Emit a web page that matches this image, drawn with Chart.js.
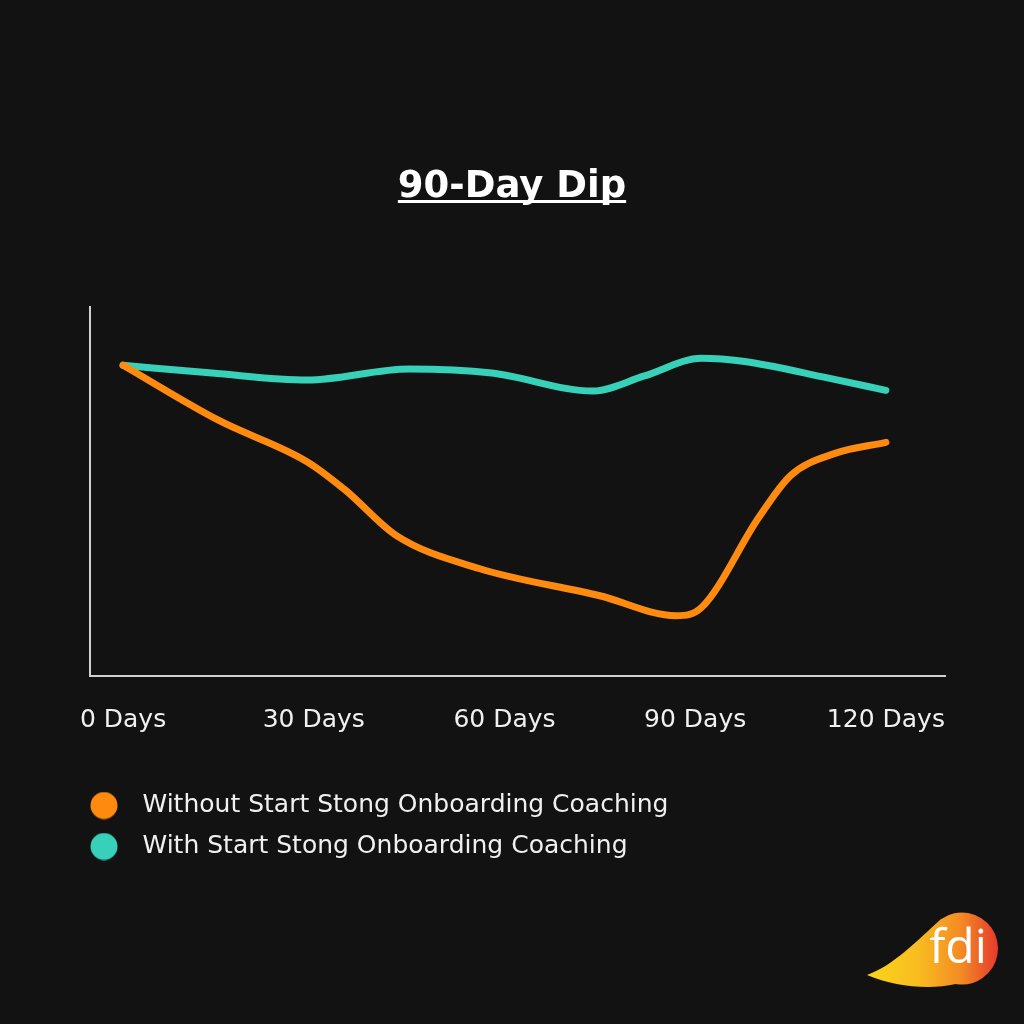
<!DOCTYPE html>
<html>
<head>
<meta charset="utf-8">
<script src="https://cdn.jsdelivr.net/npm/chart.js@4/dist/chart.umd.min.js"></script>
<style>
  html, body { margin: 0; padding: 0; background: #121212; }
  #wrap { width: 1024px; height: 1024px; }
</style>
</head>
<body>
<div id="wrap"><canvas id="c" width="1024" height="1024"></canvas></div>
<script>
// ---- data ----
const chartTitle = '90-Day Dip';
const tickDays = [0, 30, 60, 90, 120];
const tickLabels = ['0 Days', '30 Days', '60 Days', '90 Days', '120 Days'];
const seriesNames = ['Without Start Stong Onboarding Coaching', 'With Start Stong Onboarding Coaching'];
const withoutDays   = [0, 15, 29, 35, 43, 56, 75, 87, 91, 100, 105, 112, 120];
const withoutValues = [84.2, 69.3, 58, 50.3, 38, 29.1, 21.7, 16.3, 18.5, 42.9, 54.3, 60.3, 63.3];
const withDays   = [0, 14, 29, 45, 58, 74, 82, 91, 97.5, 111, 120];
const withValues = [84.2, 82.1, 80.2, 83.2, 82.1, 77.2, 81.3, 86.1, 85.3, 80.7, 77.4];
const logoText = 'fdi';

const ORANGE = '#ff8a10';
const TEAL = '#36d1b8';

function toPoints(xs, ys) { return xs.map((x, i) => ({ x: x, y: ys[i] })); }

function makeDot(color) {
  const c = document.createElement('canvas');
  c.width = 56; c.height = 28;
  const g = c.getContext('2d');
  g.fillStyle = color;
  g.beginPath();
  g.arc(14, 14, 13.5, 0, Math.PI * 2);
  g.fill();
  return c;
}

const titlePlugin = {
  id: 'titleAndLogo',
  afterDraw(chart) {
    const ctx = chart.ctx;
    ctx.save();
    // title
    ctx.font = 'bold 37px "DejaVu Sans"';
    ctx.fillStyle = '#ffffff';
    ctx.textAlign = 'center';
    ctx.textBaseline = 'alphabetic';
    ctx.fillText(chartTitle, 512, 197);
    const w = ctx.measureText(chartTitle).width;
    ctx.fillRect(512 - w / 2, 200, w, 3);
    // logo
    const cx = 962, cy = 948.5, r = 36;
    const grad = ctx.createLinearGradient(867, 0, 998, 0);
    grad.addColorStop(0, '#fbd51b');
    grad.addColorStop(0.4, '#f9bb20');
    grad.addColorStop(0.72, '#f38a24');
    grad.addColorStop(1, '#e6392d');
    ctx.fillStyle = grad;
    ctx.beginPath();
    ctx.moveTo(867, 975);
    ctx.bezierCurveTo(893, 966, 918, 940, 941, 919);
    ctx.arc(cx, cy, r, 235 * Math.PI / 180, 100 * Math.PI / 180);
    ctx.bezierCurveTo(930, 990, 895, 987, 867, 975);
    ctx.closePath();
    ctx.fill();
    ctx.fillStyle = '#ffffff';
    ctx.font = '500 48px "Open Sans"';
    ctx.textAlign = 'center';
    ctx.fillText(logoText, 958, 963);
    ctx.restore();
  }
};

new Chart(document.getElementById('c'), {
  type: 'line',
  data: {
    datasets: [
      {
        label: seriesNames[0],
        data: toPoints(withoutDays, withoutValues),
        borderColor: ORANGE,
        backgroundColor: ORANGE,
        borderWidth: 7,
        borderCapStyle: 'round',
        borderJoinStyle: 'round',
        pointRadius: 0,
        cubicInterpolationMode: 'monotone',
        pointStyle: makeDot(ORANGE)
      },
      {
        label: seriesNames[1],
        data: toPoints(withDays, withValues),
        borderColor: TEAL,
        backgroundColor: TEAL,
        borderWidth: 7,
        borderCapStyle: 'round',
        borderJoinStyle: 'round',
        pointRadius: 0,
        cubicInterpolationMode: 'monotone',
        pointStyle: makeDot(TEAL)
      }
    ]
  },
  options: {
    responsive: false,
    animation: false,
    events: [],
    layout: { padding: { top: 307, left: 90, right: 79, bottom: 155 } },
    scales: {
      x: {
        type: 'linear',
        min: -5.2,
        max: 129.3,
        afterBuildTicks(scale) { scale.ticks = tickDays.map(v => ({ value: v })); },
        grid: { display: false, drawTicks: false },
        border: { display: true, color: '#d0d0d0', width: 2 },
        ticks: {
          padding: 30,
          color: '#f0f0f0',
          font: { family: '"DejaVu Sans"', size: 25 },
          maxRotation: 0,
          autoSkip: false,
          callback(v) { const i = tickDays.indexOf(v); return i >= 0 ? tickLabels[i] : ''; }
        },
        title: { display: true, text: '', font: { size: 1 }, padding: { top: 10, bottom: 0 } }
      },
      y: {
        min: 0,
        max: 100,
        grid: { display: false, drawTicks: false },
        border: { display: true, color: '#d0d0d0', width: 2 },
        ticks: { display: false }
      }
    },
    plugins: {
      title: { display: false },
      tooltip: { enabled: false },
      legend: {
        display: true,
        position: 'bottom',
        align: 'start',
        labels: {
          usePointStyle: true,
          boxWidth: 24,
          boxHeight: 24,
          padding: 16,
          color: '#f0f0f0',
          font: { family: '"DejaVu Sans"', size: 25 }
        }
      }
    }
  },
  plugins: [titlePlugin]
});
</script>
</body>
</html>
